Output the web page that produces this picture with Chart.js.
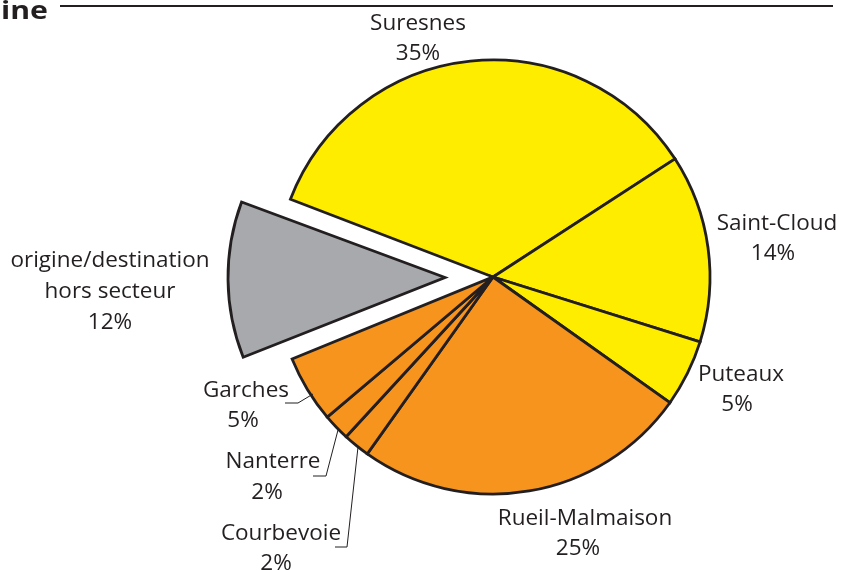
<!DOCTYPE html>
<html>
<head>
<meta charset="utf-8">
<script src="https://cdn.jsdelivr.net/npm/chart.js@4/dist/chart.umd.min.js"></script>
<style>
  html, body { margin: 0; padding: 0; background: #fff; }
  #wrap { width: 842px; height: 570px; position: relative; }
</style>
</head>
<body>
<div id="wrap"><canvas id="pie" width="842" height="570"></canvas></div>
<script>
// données
const LABELS = ['Suresnes', 'Saint-Cloud', 'Puteaux', 'Rueil-Malmaison', 'Courbevoie', 'Nanterre', 'Garches', 'origine/destination\nhors secteur'];
const VALUES = [35, 14, 5, 25, 2, 2, 5, 12];
const COLORS = ['#FFED00', '#FFED00', '#FFED00', '#F7941D', '#F7941D', '#F7941D', '#F7941D', '#A7A9AC'];
const EXPLODED = [0, 0, 0, 0, 0, 0, 0, 1];

const TEXT_COLOR = '#231F20';
const FONT = '22.5px "Open Sans", "Noto Sans", sans-serif';

// position des étiquettes, relative au centre du camembert (nom, pourcentage)
const LABEL_POS = [
    [[-75, -255], [-75, -225]],
    [[284, -55], [280, -25]],
    [[248, 96], [244, 126]],
    [[92, 240], [85, 270]],
    [[-212, 255], [-217, 285]],
    [[-220, 183], [-226, 214]],
    [[-247, 112], [-250, 142]],
    [[-383, -18], [-383, 44]]
];

// traits de rappel pour les petites parts
const LEADERS = {
    4: [[-158, 270], [-146, 270], [-135, 170]],
    5: [[-180, 199], [-167, 199], [-155, 153]],
    6: [[-208, 126], [-195, 126], [-180, 117]]
};

const EXPLODE_PX = 48;
const RADIUS = 217;

const labelPlugin = {
    id: 'labels',
    beforeDatasetsDraw(chart) {
        // garder le même rayon pour la part détachée
        const arcs = chart.getDatasetMeta(0).data;
        arcs.forEach((arc, i) => {
            if (!EXPLODED[i]) return;
            const circ = arc.endAngle - arc.startAngle;
            const fix = 1 - Math.sin(Math.min(Math.PI, circ));
            arc.outerRadius = RADIUS - EXPLODE_PX * fix;
        });
    },
    afterDraw(chart) {
        const ctx = chart.ctx;
        const arc0 = chart.getDatasetMeta(0).data[0];
        const cx = arc0.x, cy = arc0.y;

        ctx.save();
        // titre coupé et filet
        ctx.fillStyle = TEXT_COLOR;
        ctx.font = 'bold 25px "Open Sans", "Noto Sans", sans-serif';
        ctx.textAlign = 'right';
        ctx.textBaseline = 'alphabetic';
        const w = ctx.measureText('ine').width;
        ctx.save();
        ctx.translate(48, 18.5);
        ctx.scale(47 / w, 1);
        ctx.fillText('ine', 0, 0);
        ctx.restore();
        ctx.strokeStyle = TEXT_COLOR;
        ctx.lineWidth = 2;
        ctx.beginPath();
        ctx.moveTo(60, 6);
        ctx.lineTo(833, 6);
        ctx.stroke();

        ctx.font = FONT;
        ctx.textAlign = 'center';
        ctx.textBaseline = 'middle';
        LABELS.forEach((lab, i) => {
            const lines = lab.split('\n');
            const pct = VALUES[i] + '%';
            const [n, p] = LABEL_POS[i];
            lines.forEach((t, k) => {
                ctx.fillText(t, cx + n[0], cy + n[1] + 2 + k * 31);
            });
            ctx.fillText(pct, cx + p[0], cy + p[1] + 2);
        });

        ctx.lineWidth = 1;
        Object.values(LEADERS).forEach(pts => {
            ctx.beginPath();
            pts.forEach((pt, k) => {
                if (k === 0) ctx.moveTo(cx + pt[0], cy + pt[1]);
                else ctx.lineTo(cx + pt[0], cy + pt[1]);
            });
            ctx.stroke();
        });
        ctx.restore();
    }
};

new Chart(document.getElementById('pie'), {
    type: 'pie',
    data: {
        labels: LABELS,
        datasets: [{
            data: VALUES,
            backgroundColor: COLORS,
            borderColor: TEXT_COLOR,
            borderWidth: 2.8,
            borderJoinStyle: 'miter',
            offset: EXPLODED.map(e => e * EXPLODE_PX * 4)
        }]
    },
    options: {
        responsive: false,
        animation: false,
        events: [],
        rotation: -69,
        radius: RADIUS,
        layout: { padding: { left: 144, right: 0, top: 0, bottom: 16 } },
        plugins: {
            legend: { display: false },
            tooltip: { enabled: false }
        }
    },
    plugins: [labelPlugin]
});
</script>
</body>
</html>
